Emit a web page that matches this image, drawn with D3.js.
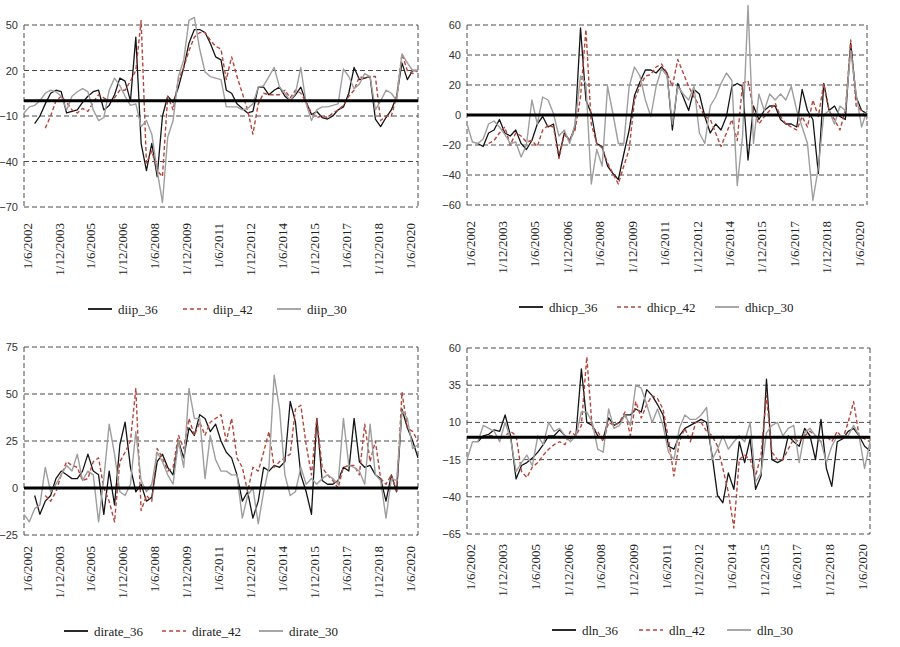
<!DOCTYPE html>
<html>
<head>
<meta charset="utf-8">
<script src="https://cdn.jsdelivr.net/npm/d3@7"></script>
<style>
  body { margin: 0; background: #fff; }
  svg { display: block; }
</style>
</head>
<body>
<div id="chart"></div>
<script>
// Four panels of differenced indicators, three window lengths each

// Quarterly observation dates, June 2002 to December 2020
const obsDates = d3.timeMonth.range(new Date(2002, 5, 1), new Date(2021, 0, 1), 3);

// Tick labels shown under every panel
const tickLabels = ["1/6/2002", "1/12/2003", "1/6/2005", "1/12/2006", "1/6/2008", "1/12/2009",
  "1/6/2011", "1/12/2012", "1/6/2014", "1/12/2015", "1/6/2017", "1/12/2018", "1/6/2020"];

// diip
const diip36 = [null,null,-15,-10,-2,5,7,6,-8,-7,-6,-1,3,6,7,-6,-3,4,15,13,0,42,-28,-46,-28,-50,-10,3,-1,9,22,38,47,47,45,38,29,
  27,7,5,-2,-5,-8,-7,9,9,4,7,9,3,0,4,9,-1,-9,-7,-11,-12,-10,-6,-4,5,22,14,15,16,-12,-17,-11,-6,3,25,14,20,20];
const diip42 = [null,null,null,null,-18,-10,0,3,-1,-6,-8,-5,-7,-1,4,2,0,2,7,7,13,20,53,-41,-33,-46,-50,3,-6,14,22,33,42,45,45,40,36,
  34,14,29,16,5,-6,-22,-2,5,4,4,4,7,2,7,5,-1,-8,-11,-10,-11,-8,-6,-3,3,7,16,15,16,16,-13,-10,-10,3,31,20,18,20];
const diip30 = [-8,-4,-3,0,5,7,6,3,-6,3,6,8,6,-6,-13,-11,7,15,10,3,-3,-2,-17,-13,-22,-46,-67,-24,-13,16,27,53,55,34,19,16,15,
  14,-4,-4,-4,-6,-5,-2,9,10,16,22,9,5,0,5,22,-2,-13,-6,-4,-4,-3,-2,21,16,8,11,18,16,-6,0,7,5,0,31,25,20,20];

// dhicp
const dhicp36 = [null,null,-19,-21,-12,-10,-3,-12,-14,-10,-19,-23,-17,-6,-1,-8,-6,-28,-12,-17,-8,58,10,1,-19,-21,-34,-39,-43,-26,-10,13,22,30,30,28,
  32,28,-10,21,12,3,17,14,-1,-12,-6,-10,-1,19,21,19,-30,6,-3,3,6,6,-3,-6,-6,-8,17,3,-3,-39,21,3,6,-1,-3,48,12,3,1];
const dhicp42 = [null,null,null,null,-19,-17,-12,-8,-20,-12,-14,-18,-17,-21,-10,-7,-8,-29,-13,-17,-10,12,57,-6,-19,-22,-32,-39,-46,-34,-23,10,19,26,27,32,
  34,28,19,37,28,19,12,6,-1,-3,-12,-21,-12,-3,-17,21,23,3,-6,-1,3,8,-1,-6,-8,-10,-1,-8,10,-1,21,3,-3,-10,3,50,6,3,-3];
const dhicp30 = [-6,-18,-19,-16,-6,-4,-8,-13,-19,-18,-28,-20,10,-6,12,10,1,-14,-10,-19,-6,26,21,-46,-23,-34,19,1,-19,-19,19,32,26,10,-1,19,
  31,26,-6,19,14,10,19,-12,-19,6,12,21,28,23,-47,-14,73,-19,14,3,14,10,14,10,19,3,-8,-19,-57,-35,0,3,-6,6,3,43,14,-8,3];

// dirate
const dirate36 = [null,null,-4,-14,-7,-4,5,9,7,5,5,9,18,9,7,-14,9,-9,23,35,11,-2,2,-7,-5,14,18,11,7,25,16,32,28,39,37,30,34,
  25,19,16,7,-7,-2,-16,-7,11,9,12,11,14,46,35,7,-2,-14,37,4,2,2,4,11,9,37,14,11,12,7,5,-7,7,-2,42,32,25,16];
const dirate42 = [null,null,null,null,-4,-7,-2,7,14,12,11,4,5,14,16,0,-7,-18,14,19,25,53,-12,-4,-7,21,16,9,11,28,21,37,28,35,28,35,37,
  39,25,37,16,11,-2,11,9,19,30,11,14,16,18,42,44,23,7,37,11,7,4,0,11,12,12,7,34,14,25,5,2,7,-2,51,32,30,25];
const dirate30 = [-14,-18,-11,-9,11,-2,2,7,12,9,18,4,9,7,-18,5,34,18,-2,-4,2,30,4,-2,2,19,14,7,2,25,11,53,37,37,5,28,15,
  9,9,7,7,-16,-4,0,-19,-2,11,60,42,7,-4,-2,11,2,5,2,5,7,5,2,37,12,11,9,2,34,7,4,-16,5,4,41,37,21,23];

// dln
const dln36 = [null,null,-3,1,2,5,4,15,1,-28,-19,-17,-14,-10,-5,1,1,5,1,-1,1,46,10,8,1,-1,13,8,10,15,15,19,17,32,28,22,
  15,-6,-8,1,6,8,10,12,10,-12,-39,-44,-24,-35,-3,-17,-1,-35,-26,39,-15,-17,-15,1,-3,-6,6,1,-15,12,-21,-33,-3,-1,4,6,1,-6,-9];
const dln42 = [null,null,null,null,1,1,-1,1,4,1,-23,-27,-20,-17,-12,-8,-5,-3,-5,4,1,8,54,6,4,-3,10,8,10,17,1,24,13,22,28,26,
  19,-1,-26,-3,6,-3,10,10,4,1,-6,-21,-37,-61,-15,-12,-15,-26,-12,28,-10,-15,-15,-8,-1,-3,1,4,1,-3,1,-3,4,-1,10,24,1,-1,-3];
const dln30 = [-15,-3,-3,8,6,4,-3,10,-1,-23,-17,-12,-19,1,-5,10,4,6,1,-3,1,17,17,10,-8,-10,19,6,8,15,8,35,33,22,10,19,
  8,-10,-15,6,15,12,12,15,20,-15,-8,1,-8,-3,1,-3,10,-30,-24,3,8,10,1,6,8,-17,3,6,1,-3,-17,-6,1,1,1,8,1,-21,-3];

// Y tick values per panel
const diipTicks = [50, 20, -10, -40, -70];
const dhicpTicks = [60, 40, 20, 0, -20, -40, -60];
const dirateTicks = [75, 50, 25, 0, -25];
const dlnTicks = [60, 35, 10, -15, -40, -65];

// Panel layout
const panels = [
  {names: ["diip_36", "diip_42", "diip_30"], series: [diip36, diip42, diip30], ticks: diipTicks,
   x0: 24, x1: 418, y0: 25, y1: 207, labelGap: 16, legendY: 309, legendX: [88, 183, 277]},
  {names: ["dhicp_36", "dhicp_42", "dhicp_30"], series: [dhicp36, dhicp42, dhicp30], ticks: dhicpTicks,
   x0: 467, x1: 867, y0: 25, y1: 205, labelGap: 16, legendY: 307, legendX: [519, 617, 715]},
  {names: ["dirate_36", "dirate_42", "dirate_30"], series: [dirate36, dirate42, dirate30], ticks: dirateTicks,
   x0: 24, x1: 418, y0: 347, y1: 535, labelGap: 11, legendY: 631, legendX: [64, 162, 259]},
  {names: ["dln_36", "dln_42", "dln_30"], series: [dln36, dln42, dln30], ticks: dlnTicks,
   x0: 467, x1: 870, y0: 348, y1: 534, labelGap: 10, legendY: 630, legendX: [552, 639, 727]}
];

// Line styles: 36 black, 42 red dashed, 30 gray
const styles = [
  {stroke: "#141414", width: 1.3, dash: null},
  {stroke: "#b5463b", width: 1.4, dash: "4,2.5"},
  {stroke: "#9e9e9e", width: 1.4, dash: null}
];

const serifFont = "'Liberation Serif', 'DejaVu Serif', 'Times New Roman', serif";
const parseTick = d3.timeParse("%d/%m/%Y");

const svg = d3.select("#chart")
  .append("svg")
    .attr("width", 900)
    .attr("height", 647);

svg.append("rect").attr("width", 900).attr("height", 647).attr("fill", "#fff");

panels.forEach(p => {
  const x = d3.scaleTime()
    .domain([obsDates[0], obsDates[obsDates.length - 1]])
    .range([p.x0, p.x1]);

  const y = d3.scaleLinear()
    .domain([d3.min(p.ticks), d3.max(p.ticks)])
    .range([p.y1, p.y0]);

  const g = svg.append("g");

  // Dashed gridlines (zero gets the heavy line later)
  g.selectAll(".grid")
    .data(p.ticks.filter(t => t !== 0))
    .enter()
    .append("line")
      .attr("x1", p.x0).attr("x2", p.x1)
      .attr("y1", d => y(d)).attr("y2", d => y(d))
      .attr("stroke", "#4a4a4a")
      .attr("stroke-width", 1)
      .attr("stroke-dasharray", "5,3");

  // Dashed plot borders left and right
  [p.x0, p.x1].forEach(xx => {
    g.append("line")
      .attr("x1", xx).attr("x2", xx)
      .attr("y1", p.y0).attr("y2", p.y1)
      .attr("stroke", "#4a4a4a")
      .attr("stroke-width", 1)
      .attr("stroke-dasharray", "5,3");
  });

  // Y axis labels
  const yAxis = g.append("g")
    .attr("transform", `translate(${p.x0 - 1},0)`)
    .call(d3.axisLeft(y).tickValues(p.ticks).tickSize(0).tickPadding(5));
  yAxis.select(".domain").remove();
  yAxis.selectAll("text")
    .attr("font-family", "'Liberation Sans', Arial, sans-serif")
    .attr("font-size", "11px")
    .attr("fill", "#333");

  // X tick labels, rotated
  g.selectAll(".xlab")
    .data(tickLabels)
    .enter()
    .append("text")
      .attr("transform", d => `translate(${x(parseTick(d)) + 3},${p.y1 + p.labelGap}) rotate(-90)`)
      .attr("text-anchor", "end")
      .attr("dy", "0.35em")
      .attr("font-family", serifFont)
      .attr("font-size", "13px")
      .attr("fill", "#222")
      .text(d => d);

  // Series lines
  p.series.forEach((vals, i) => {
    const line = d3.line()
      .defined(d => d[1] !== null)
      .x(d => x(d[0]))
      .y(d => y(d[1]));
    g.append("path")
      .datum(obsDates.map((dt, k) => [dt, vals[k]]))
      .attr("fill", "none")
      .attr("stroke", styles[i].stroke)
      .attr("stroke-width", styles[i].width)
      .attr("stroke-dasharray", styles[i].dash)
      .attr("stroke-linejoin", "round")
      .attr("d", line);
  });

  // Heavy zero line
  g.append("line")
    .attr("x1", p.x0).attr("x2", p.x1)
    .attr("y1", y(0)).attr("y2", y(0))
    .attr("stroke", "#000")
    .attr("stroke-width", 3);

  // Legend
  p.names.forEach((name, i) => {
    const lx = p.legendX[i];
    g.append("line")
      .attr("x1", lx).attr("x2", lx + 24)
      .attr("y1", p.legendY).attr("y2", p.legendY)
      .attr("stroke", styles[i].stroke)
      .attr("stroke-width", i === 1 ? 1.6 : 1.8)
      .attr("stroke-dasharray", i === 1 ? "4,3" : null);
    g.append("text")
      .attr("x", lx + 30)
      .attr("y", p.legendY)
      .attr("dy", "0.35em")
      .attr("font-family", serifFont)
      .attr("font-size", "13px")
      .attr("fill", "#222")
      .text(name);
  });
});
</script>
</body>
</html>
